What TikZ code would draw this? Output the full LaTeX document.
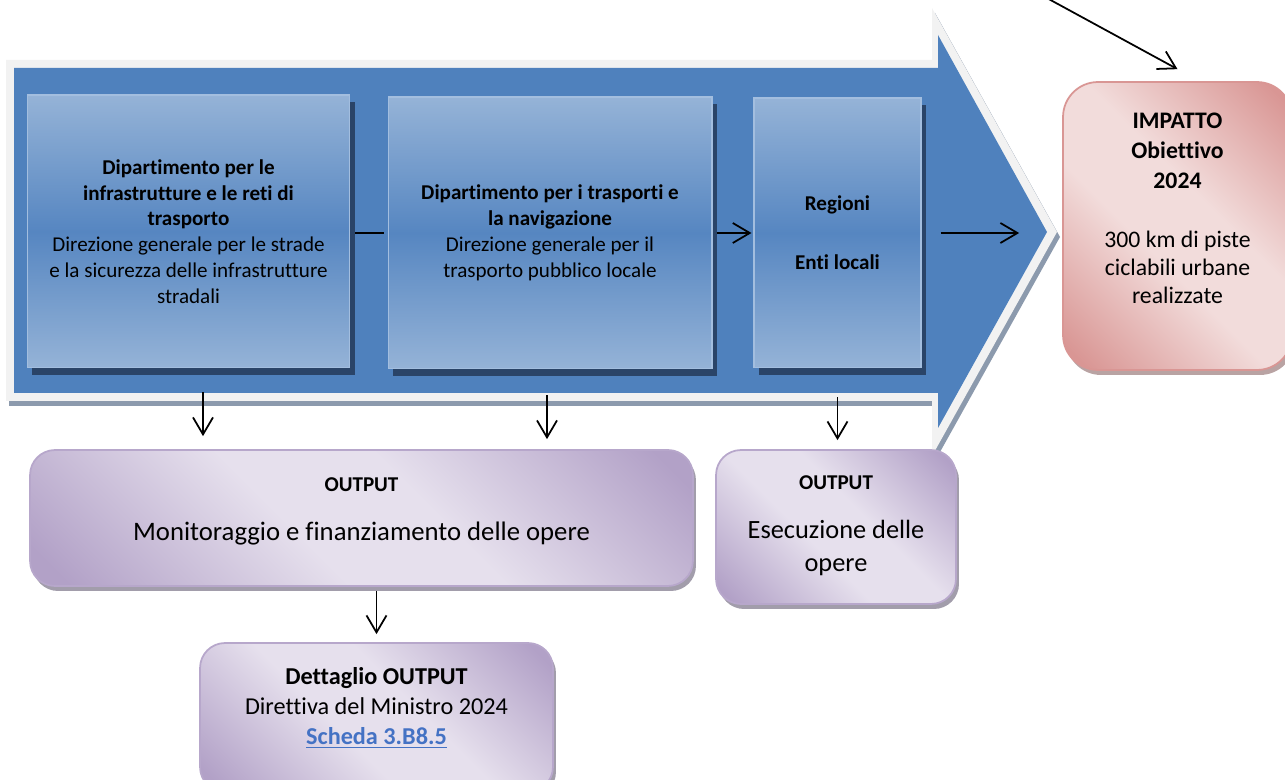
\documentclass[tikz,border=0pt]{standalone}
\usepackage{fontspec}
\setmainfont{Carlito}[Ligatures=NoCommon]
\usetikzlibrary{arrows.meta,shadows,calc}

\definecolor{chevblue}{HTML}{4F81BD}
\definecolor{chevedge}{HTML}{F2F2F2}
\definecolor{chevshade}{HTML}{8C9AAD}
\definecolor{boxlight}{HTML}{95B3D7}
\definecolor{boxmid}{HTML}{5686C1}
\definecolor{boxline}{HTML}{A3BEDF}
\definecolor{boxshade}{HTML}{2A4468}
\definecolor{plight}{HTML}{E6E0ED}
\definecolor{pdark}{HTML}{B2A1C7}
\definecolor{pline}{HTML}{B7A7CB}
\definecolor{pshade}{HTML}{A29DAB}
\definecolor{rlight}{HTML}{F2DCDB}
\definecolor{rdark}{HTML}{D99694}
\definecolor{rline}{HTML}{D99694}
\definecolor{rshade}{HTML}{B9A3A3}
\definecolor{linkblue}{HTML}{4472C4}

\pgfdeclarehorizontalshading{diagpurple}{100bp}{color(0bp)=(pdark); color(18bp)=(pdark); color(43bp)=(plight); color(57bp)=(plight); color(82bp)=(pdark); color(100bp)=(pdark)}
\pgfdeclarehorizontalshading{diagred}{100bp}{color(0bp)=(rdark); color(18bp)=(rdark); color(43bp)=(rlight); color(57bp)=(rlight); color(82bp)=(rdark); color(100bp)=(rdark)}

\tikzset{
  flow/.style={line width=1pt, -{Straight Barb[length=3.4mm,width=4mm]}},
  unitbox/.style={draw=boxline, line width=0.6pt, top color=boxlight, bottom color=boxlight, middle color=boxmid,
    drop shadow={shadow xshift=0.1cm, shadow yshift=-0.14cm, fill=boxshade, opacity=1},
    align=center, inner sep=0pt, font=\fontsize{12}{14.7}\selectfont},
  outbox/.style={draw=pline, line width=1pt, rounded corners=0.5cm, shade, shading=diagpurple, shading angle=45,
    drop shadow={shadow xshift=0.06cm, shadow yshift=-0.1cm, fill=pshade, opacity=1},
    align=center, inner sep=0pt},
  goalbox/.style={draw=rline, line width=1pt, rounded corners=0.7cm, shade, shading=diagred, shading angle=45,
    drop shadow={shadow xshift=0.06cm, shadow yshift=-0.1cm, fill=rshade, opacity=1},
    align=center, inner sep=0pt, font=\fontsize{13.5}{15.9}\selectfont}
}

\begin{document}
\begin{tikzpicture}[x=0.02cm, y=-0.02cm]
    \useasboundingbox (0,0) rectangle (1285,780);
    \clip (0,0) rectangle (1285,780);
    \fill[chevshade] (9,65) -- (935,65) -- (935,13) -- (1060,237) -- (935,461) -- (935,406) -- (9,406) -- cycle;
    \fill[chevedge] (6,60) -- (932,60) -- (932,8) -- (1057,232) -- (932,456) -- (932,401) -- (6,401) -- cycle;
    \fill[chevblue] (14,68) -- (938,68) -- (938,35) -- (1047,232) -- (938,428) -- (938,393) -- (14,393) -- cycle;
    \node[unitbox, minimum width=6.46cm, minimum height=5.46cm] (dip1) at (188.5,231.5)
        {\textbf{Dipartimento per le}\\ \textbf{infrastrutture e le reti di}\\ \textbf{trasporto}\\
         Direzione generale per le strade\\ e la sicurezza delle infrastrutture\\ stradali};
    \node[unitbox, minimum width=6.48cm, minimum height=5.44cm] (dip2) at (550,233)
        {\textbf{Dipartimento per i trasporti e}\\ \textbf{la navigazione}\\
         Direzione generale per il\\ trasporto pubblico locale};
    \node[unitbox, minimum width=3.34cm, minimum height=5.4cm] (reg) at (837.5,233)
        {\textbf{Regioni}\\[19pt] \textbf{Enti locali}};
    \node[goalbox, minimum width=4.58cm, minimum height=5.76cm, text depth=0.7cm] (imp) at (1177.5,226)
        {\textbf{IMPATTO}\\[1.1pt] \textbf{Obiettivo}\\[1.1pt] \textbf{2024}\\[18pt]
         300 km di piste\\ ciclabili urbane\\ realizzate};
    \node[outbox, minimum width=13.26cm, minimum height=2.72cm, text depth=0.36cm,
          font=\fontsize{15.2}{18}\selectfont] (out1) at (361.5,518)
        {{\fontsize{12}{14.7}\selectfont\textbf{OUTPUT}}\\[9.8pt]
         Monitoraggio e finanziamento delle opere};
    \node[outbox, minimum width=4.8cm, minimum height=3.08cm, text depth=0.12cm,
          font=\fontsize{15}{18.7}\selectfont] (out2) at (836,527)
        {{\fontsize{12}{14.7}\selectfont\textbf{OUTPUT}}\\[9.2pt]
         Esecuzione delle\\ opere};
    \node[outbox, minimum width=7.06cm, minimum height=2.98cm, text depth=0.45cm,
          font=\fontsize{13.8}{17}\selectfont] (det) at (376.5,717.5)
        {\textbf{Dettaglio OUTPUT}\\ Direttiva del Ministro 2024\\
         \textcolor{linkblue}{\underline{\textbf{Scheda 3.B8.5}}}};
    \coordinate (top) at (1045,-3);
    \draw[line width=1pt, shorten <=0.1cm, shorten >=0.08cm] (dip1.east |- dip2.west) -- (dip2.west);
    \draw[flow, shorten <=0.08cm, shorten >=0.04cm] (dip2.east) -- (reg.west);
    \draw[flow, shorten <=0.38cm, shorten >=0.86cm] (reg.east) -- (reg.east -| imp.west);
    \draw[flow, shorten <=0.48cm, shorten >=0.26cm] ([xshift=0.29cm]dip1.south) -- ([xshift=0.29cm]dip1.south |- out1.north);
    \draw[flow, shorten <=0.52cm, shorten >=0.2cm] ([xshift=-0.06cm]dip2.south) -- ([xshift=-0.06cm]dip2.south |- out1.north);
    \draw[flow, shorten <=0.58cm, shorten >=0.18cm] (reg.south) -- (reg.south |- out2.north);
    \draw[flow, shorten <=0.08cm, shorten >=0.16cm] (out1.south -| det.north) -- (det.north);
    \draw[flow] (top) -- ([yshift=0.24cm]imp.north);
\end{tikzpicture}
\end{document}
